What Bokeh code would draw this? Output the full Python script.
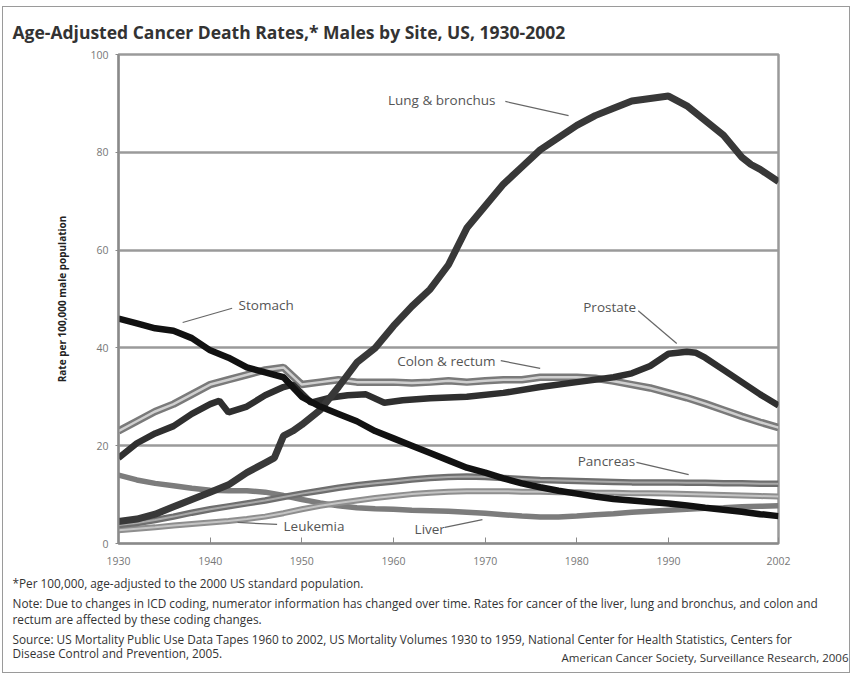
from bokeh.plotting import figure
from bokeh.models import Range1d, FixedTicker, Title
from bokeh.embed import file_html
from bokeh.resources import INLINE
from bokeh.core.properties import value

# ---------------- data ----------------
years2 = list(range(1930, 2003, 2))

lung_years = [1930, 1932, 1934, 1936, 1938, 1940, 1942, 1944, 1946, 1947, 1948, 1949, 1950, 1952,
              1954, 1956, 1958, 1960, 1962, 1964, 1966, 1968, 1970, 1972, 1974, 1976, 1978, 1980,
              1982, 1984, 1986, 1988, 1990, 1992, 1994, 1996, 1998, 1999, 2000, 2002]
lung = [4.5, 5, 6, 7.5, 9, 10.5, 12, 14.5, 16.5, 17.5, 22, 23, 24.3, 27.3,
        32, 37, 40, 44.5, 48.5, 52, 57, 64.5, 69, 73.5, 77, 80.5, 83, 85.5,
        87.5, 89, 90.5, 91, 91.5, 89.5, 86.5, 83.5, 79, 77.5, 76.5, 74]

stomach = [46, 45, 44, 43.5, 42, 39.5, 38, 36, 35, 34, 30, 28, 26.5, 25, 23, 21.5, 20, 18.5, 17,
           15.5, 14.5, 13.3, 12.3, 11.5, 10.8, 10.2, 9.6, 9.1, 8.8, 8.5, 8.2, 7.8, 7.3, 6.9,
           6.5, 6, 5.6]

prostate_years = [1930, 1932, 1934, 1936, 1938, 1940, 1941, 1942, 1944, 1946, 1948, 1949, 1951,
                  1953, 1955, 1957, 1959, 1961, 1964, 1968, 1972, 1976, 1980, 1984, 1986, 1988,
                  1990, 1992, 1993, 1994, 1996, 1998, 2000, 2002]
prostate = [17.5, 20.5, 22.5, 24, 26.5, 28.5, 29.2, 26.8, 28, 30.3, 32, 32.5, 28.8,
            29.8, 30.3, 30.5, 28.8, 29.3, 29.7, 30, 30.8, 32, 33, 34, 34.8, 36.3,
            38.8, 39.2, 39, 38, 35.5, 33, 30.5, 28.2]

colon = [23, 25, 27, 28.5, 30.5, 32.5, 33.5, 34.5, 35.5, 36, 32.5, 33, 33.5, 33, 33, 33, 32.8,
         33, 33.3, 33, 33.3, 33.5, 33.5, 34, 34, 34, 33.8, 33.2, 32.5, 31.8, 30.8, 29.8, 28.6,
         27.3, 26, 24.8, 23.7]

pancreas = [3.8, 4.2, 4.8, 5.5, 6.3, 7, 7.6, 8.2, 8.8, 9.5, 10.2, 10.8, 11.4, 11.9, 12.3, 12.7,
            13.1, 13.4, 13.6, 13.7, 13.6, 13.4, 13.2, 13, 12.9, 12.8, 12.7, 12.6, 12.5, 12.5,
            12.5, 12.4, 12.4, 12.3, 12.3, 12.2, 12.2]

leukemia = [2.7, 3, 3.3, 3.7, 4, 4.3, 4.6, 5, 5.5, 6.2, 7, 7.7, 8.3, 8.8, 9.3, 9.7, 10.1, 10.4,
            10.6, 10.7, 10.7, 10.7, 10.6, 10.6, 10.5, 10.5, 10.4, 10.4, 10.3, 10.3, 10.2, 10.1,
            10, 9.9, 9.8, 9.7, 9.6]

liver = [14, 13, 12.3, 11.8, 11.3, 10.9, 10.8, 10.8, 10.5, 9.8, 9, 8.3, 7.7, 7.3, 7.1, 7, 6.8,
         6.7, 6.6, 6.4, 6.2, 5.9, 5.6, 5.4, 5.4, 5.6, 5.9, 6.1, 6.4, 6.6, 6.8, 7, 7.2, 7.3,
         7.5, 7.6, 7.7]

x_ticks = [1930, 1940, 1950, 1960, 1970, 1980, 1990, 2002]
y_ticks = [0, 20, 40, 60, 80, 100]

series_labels = ["Lung & bronchus", "Stomach", "Prostate", "Colon & rectum", "Pancreas",
                 "Leukemia", "Liver"]
# label anchor (year, rate) and leader line endpoints
label_x = [1959.4, 1943.1, 1980.7, 1960.4, 1980.1, 1948.0, 1962.3]
label_y = [90.6, 48.7, 48.3, 37.4, 16.8, 3.5, 2.9]
lead_x0 = [1972.2, 1942.4, 1986.7, 1971.7, 1986.5, 1947.3, 1965.6]
lead_y0 = [90.4, 48.1, 47.6, 37.4, 16.6, 3.9, 3.3]
lead_x1 = [1979.1, 1937.0, 1990.9, 1976.0, 1992.2, 1943.0, 1969.7]
lead_y1 = [87.5, 45.2, 40.9, 35.8, 14.1, 4.3, 4.9]

title_text = "Age-Adjusted Cancer Death Rates,* Males by Site, US, 1930-2002"
foot_lines = [
    "*Per 100,000, age-adjusted to the 2000 US standard population.",
    "Note: Due to changes in ICD coding, numerator information has changed over time. Rates for cancer of the liver, lung and bronchus, and colon and",
    "rectum are affected by these coding changes.",
    "Source: US Mortality Public Use Data Tapes 1960 to 2002, US Mortality Volumes 1930 to 1959, National Center for Health Statistics, Centers for",
    "Disease Control and Prevention, 2005.",
]
foot_standoff = [10, -5, 0, 5, -14]
credit = "American Cancer Society, Surveillance Research, 2006"

FONT = "Open Sans"

# ---------------- figure ----------------
p = figure(width=848, height=667, output_backend="svg", toolbar_location=None,
           x_range=Range1d(1930, 2002), y_range=Range1d(0, 100),
           min_border_left=115, min_border_right=73, min_border_top=47, min_border_bottom=131,
           background_fill_color="white", border_fill_color="white")
p.styles = {"border": "1.5px solid #9a9a9a", "margin-top": "6px", "margin-left": "2px"}

p.title.text = title_text
p.title.align = "left"
p.title.offset = -106
p.title.text_font = FONT
p.title.text_font_style = "bold"
p.title.text_font_size = "17.5px"
p.title.text_color = "#333333"
p.title.standoff = 21

p.outline_line_color = "#9a9a9a"
p.outline_line_width = 2.5
p.xgrid.visible = False
p.ygrid.ticker = FixedTicker(ticks=y_ticks)
p.ygrid.grid_line_color = "#9a9a9a"
p.ygrid.grid_line_width = 2.5

p.xaxis.ticker = FixedTicker(ticks=x_ticks)
p.yaxis.ticker = FixedTicker(ticks=y_ticks)
for ax in (p.xaxis, p.yaxis):
    ax.axis_line_color = "#8a8a8a"
    ax.axis_line_width = 2
    ax.major_tick_line_color = "#8a8a8a"
    ax.minor_tick_line_color = None
    ax.major_label_text_color = "#777777"
    ax.major_label_text_font = FONT
    ax.major_label_text_font_size = "10.5px"
p.xaxis.major_tick_in = 6
p.xaxis.major_tick_out = 0
p.xaxis.major_label_standoff = 13
p.yaxis.major_tick_in = 0
p.yaxis.major_tick_out = 3
p.yaxis.major_label_standoff = 7
p.yaxis.axis_label = "Rate per 100,000 male population"
p.yaxis.axis_label_text_font = FONT
p.yaxis.axis_label_text_font_style = "bold"
p.yaxis.axis_label_text_font_size = "10px"
p.yaxis.axis_label_text_color = "#222222"
p.yaxis.axis_label_standoff = 18

# ---------------- lines ----------------
p.line(years2, liver, line_color="#7c7c7c", line_width=5.5)
p.line(years2, leukemia, line_color="#8e8e8e", line_width=6)
p.line(years2, leukemia, line_color="#c4c4c4", line_width=2)
p.line(years2, pancreas, line_color="#6e6e6e", line_width=6.5)
p.line(years2, pancreas, line_color="#a8a8a8", line_width=2)
p.line(years2, colon, line_color="#7a7a7a", line_width=7.5)
p.line(years2, colon, line_color="#cfcfcf", line_width=2.5)
p.line(prostate_years, prostate, line_color="#2f2f2f", line_width=6.5)
p.line(lung_years, lung, line_color="#383838", line_width=7)
p.line(years2, stomach, line_color="#111111", line_width=6.5)

# ---------------- series labels ----------------
p.segment(x0=lead_x0, y0=lead_y0, x1=lead_x1, y1=lead_y1, line_color="#666666", line_width=1.2)
p.text(x=label_x, y=label_y, text=series_labels, text_font=value(FONT), text_font_size="13.5px",
       text_color="#555555", text_baseline="middle", text_align="left")

# ---------------- footnotes ----------------
for txt, so in zip(foot_lines, foot_standoff):
    t = Title(text=txt, align="left", offset=-106, text_font=FONT, text_font_size="11.8px",
              text_font_style="normal", text_color="#333333", standoff=so)
    p.add_layout(t, "below")
p.add_layout(Title(text=credit, align="right", offset=-70, text_font=FONT,
                   text_font_size="11.5px", text_font_style="normal", text_color="#333333",
                   standoff=-12), "below")

open("out.html", "w").write(file_html(p, INLINE))
